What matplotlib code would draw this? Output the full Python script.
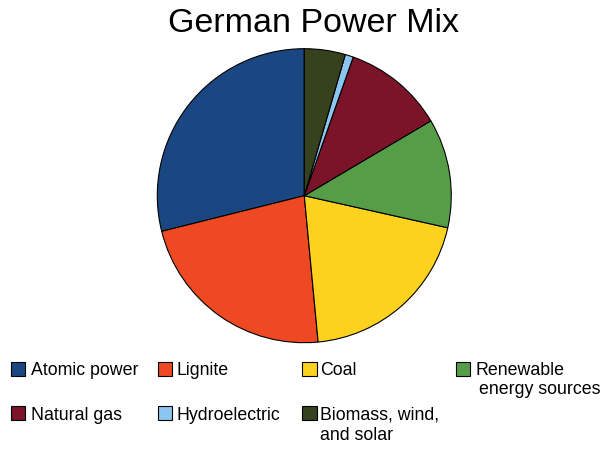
import matplotlib
matplotlib.use("Agg")
import matplotlib.pyplot as plt
from matplotlib.patches import Rectangle

plt.rcParams['font.family'] = ['Liberation Sans', 'DejaVu Sans']

categories = ["Atomic power", "Lignite", "Coal", "Renewable\nenergy sources",
              "Natural gas", "Hydroelectric", "Biomass, wind,\nand solar"]
shares = [28.9, 22.6, 20.0, 12.0, 11.1, 0.9, 4.5]
colors = ["#1a4782", "#ee4923", "#fdd21f", "#559e47", "#7b1428", "#8ac6ef", "#36411d"]

# legend order (as displayed, row-major)
legend_order = ["Atomic power", "Lignite", "Coal", "Renewable\nenergy sources",
                "Natural gas", "Hydroelectric", "Biomass, wind,\nand solar"]

W, H = 614, 454
fig = plt.figure(figsize=(W / 100, H / 100), dpi=100)

cx, cy, r = 304.3, 195.7, 147.0
ax = fig.add_axes([(cx - r) / W, (H - cy - r) / H, 2 * r / W, 2 * r / H])
ax.pie(shares, colors=colors, startangle=90, counterclock=True, radius=1.0,
       wedgeprops=dict(edgecolor="black", linewidth=0.8))
ax.set_xlim(-1.0, 1.0)
ax.set_ylim(-1.0, 1.0)
ax.axis("off")

fig.text(313.5 / W, 1 - 31.7 / H, "German Power Mix", fontsize=24.5,
         ha="center", va="baseline", color="black")

# legend layout (pixels)
sq_x = [11.0, 157.7, 302.3, 455.7]
tx_x = [30.7, 176.0, 319.8, 475.7]
sq_top = [361.7, 406.0]
base_y = [375.0, 420.0]
sq = 14.3
line_gap = 19.5

for i, lab in enumerate(legend_order):
    row, col = divmod(i, 4)
    c = colors[categories.index(lab)]
    fig.patches.append(Rectangle((sq_x[col] / W, 1 - (sq_top[row] + sq) / H), sq / W, sq / H,
                                 transform=fig.transFigure, facecolor=c,
                                 edgecolor="black", linewidth=0.8))
    for j, line in enumerate(lab.split("\n")):
        dx = 3.5 if (j > 0 and lab.startswith("Renewable")) else 0.0
        fig.text((tx_x[col] + dx) / W, 1 - (base_y[row] + j * line_gap) / H, line,
                 fontsize=12.8, ha="left", va="baseline", color="black")

fig.savefig("out.png", dpi=100, facecolor="white")
